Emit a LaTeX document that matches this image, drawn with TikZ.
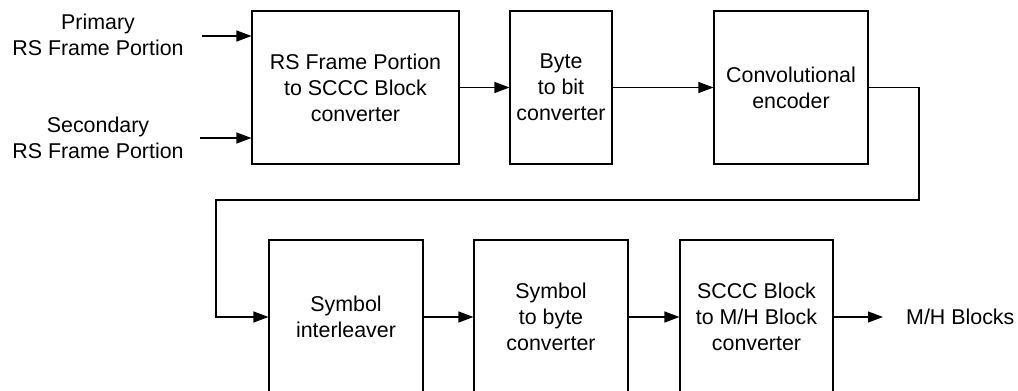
\documentclass[tikz,border=0pt]{standalone}
\usepackage{fontspec}
\setmainfont{Liberation Sans}
\usetikzlibrary{arrows.meta}
\begin{document}
\begin{tikzpicture}[x=1pt,y=-1pt,
  blk/.style={draw, line width=1.1pt, rectangle, inner sep=0pt, align=center,
    font=\fontsize{21.4}{26}\selectfont},
  lbl/.style={inner sep=0pt, align=center, font=\fontsize{21.4}{26}\selectfont},
  arr/.style={line width=1.1pt, -{Triangle[length=15pt,width=11pt]}},
  ln/.style={line width=1.1pt}]
\useasboundingbox (0,0) rectangle (1018,391);
% top row
\node[blk, minimum width=207pt, minimum height=153pt] (b1) at (355.5,87.5)
  {RS Frame Portion\\to SCCC Block\\converter};
\node[blk, minimum width=102pt, minimum height=153pt] (b2) at (561,87.5)
  {Byte\\to bit\\converter};
\node[blk, minimum width=154pt, minimum height=153pt] (b3) at (791,87.5)
  {Convolutional\\encoder};
% bottom row
\node[blk, minimum width=154pt, minimum height=154pt] (b4) at (346,317)
  {Symbol\\interleaver};
\node[blk, minimum width=154pt, minimum height=154pt] (b5) at (551,317)
  {Symbol\\to byte\\converter};
\node[blk, minimum width=153pt, minimum height=154pt] (b6) at (756.5,317)
  {SCCC Block\\to M/H Block\\converter};
% inputs
\node[lbl] (l1) at (98,35) {Primary\\RS Frame Portion};
\node[lbl] (l2) at (98,138) {Secondary\\RS Frame Portion};
\coordinate (i1) at (202,36);
\coordinate (i2) at (200,138);
\draw[arr] (i1) -- (i1 -| b1.west);
\draw[arr] (i2) -- (i2 -| b1.west);
% chain
\draw[arr] (b1.east) -- (b2.west);
\draw[arr] (b2.east) -- (b3.west);
\coordinate (r1) at (919,200);
\coordinate (r2) at (216,200);
\draw[arr] (b3.east) -| (r1) -- (r2) |- (b4.west);
\draw[arr] (b4.east) -- (b5.west);
\draw[arr] (b5.east) -- (b6.west);
\coordinate (o1) at (883,317);
\draw[arr] (b6.east) -- (o1);
\node[lbl, anchor=west] (out) at (906,317) {M/H Blocks};
\end{tikzpicture}
\end{document}
